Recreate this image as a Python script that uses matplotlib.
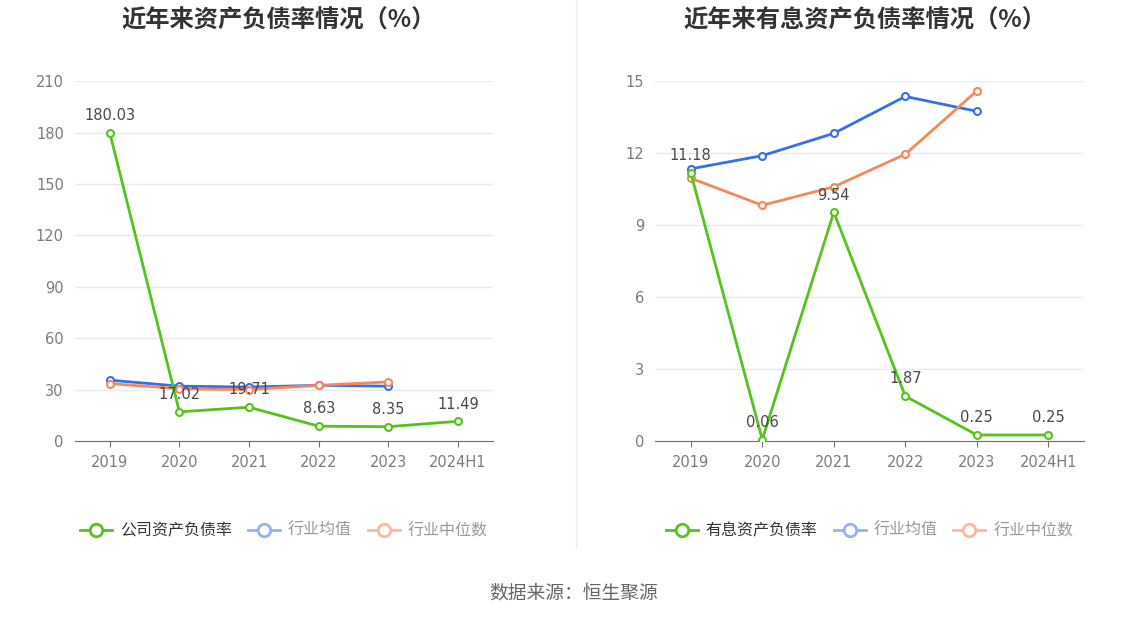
"""
近年来资产负债率 / 有息资产负债率
"""
import matplotlib
matplotlib.use('Agg')
import matplotlib.pyplot as plt
from matplotlib.lines import Line2D

plt.rcParams['font.family'] = ['DejaVu Sans', 'Noto Sans CJK SC']
CJK = ['Noto Sans CJK SC', 'DejaVu Sans']

years = ['2019', '2020', '2021', '2022', '2023', '2024H1']

# 资产负债率
company_debt = [180.03, 17.02, 19.71, 8.63, 8.35, 11.49]
industry_avg = [35.5, 32.0, 31.5, 32.5, 32.0]
industry_median = [33.5, 30.5, 30.0, 32.5, 34.5]

# 有息资产负债率
company_int = [11.18, 0.06, 9.54, 1.87, 0.25, 0.25]
int_avg = [11.35, 11.9, 12.83, 14.37, 13.75]
int_median = [10.96, 9.83, 10.6, 11.96, 14.6]

GREEN = '#52C41A'
BLUE = '#3470E6'
ORANGE = '#F7875A'
BLUE_L = '#94B3F3'
ORANGE_L = '#FBB9A0'
GRID = '#E6EAF2'
AXIS = '#6E7079'

fig = plt.figure(figsize=(11.48, 6.19), dpi=100)


def draw(ax, comp, avg, med, ymax, step, name):
    x = list(range(len(years)))
    ax.plot(x[:len(avg)], avg, color=BLUE, lw=2, marker='o', ms=5,
            mfc='white', mec=BLUE, mew=1.5, zorder=3)
    ax.plot(x[:len(med)], med, color=ORANGE, lw=2, marker='o', ms=5,
            mfc='white', mec=ORANGE, mew=1.5, zorder=3)
    ax.plot(x, comp, color=GREEN, lw=2, marker='o', ms=5,
            mfc='white', mec=GREEN, mew=1.5, zorder=4)
    for i, v in enumerate(comp):
        ax.annotate('%.2f' % v, (i, v), xytext=(0, 7), textcoords='offset points',
                    ha='center', va='bottom', fontsize=10.5, color='#484848', zorder=5)
    ax.set_xlim(-0.5, len(years) - 0.5)
    ax.set_ylim(0, ymax)
    ax.set_yticks([step * k for k in range(int(ymax / step) + 1)])
    ax.set_xticks(x)
    ax.set_xticklabels(years)
    ax.grid(axis='y', color=GRID, lw=1)
    ax.set_axisbelow(True)
    for s in ['top', 'right', 'left']:
        ax.spines[s].set_visible(False)
    ax.spines['bottom'].set_color(AXIS)
    ax.tick_params(axis='y', length=0, pad=8, labelsize=10.5, labelcolor='#7A7C85')
    ax.tick_params(axis='x', length=4, color=AXIS, pad=6, labelsize=10.5, labelcolor='#7A7C85')

    handles = [
        Line2D([], [], color=GREEN, lw=2, marker='o', ms=9, mfc='white', mec=GREEN, mew=2),
        Line2D([], [], color=BLUE_L, lw=2, marker='o', ms=9, mfc='white', mec=BLUE_L, mew=2),
        Line2D([], [], color=ORANGE_L, lw=2, marker='o', ms=9, mfc='white', mec=ORANGE_L, mew=2),
    ]
    leg = ax.legend(handles, [name, '行业均值', '行业中位数'], loc='center',
                    bbox_to_anchor=(0.5, -0.25), ncol=3, frameon=False,
                    prop={'family': CJK, 'size': 11.5}, handlelength=2.0,
                    handletextpad=0.5, columnspacing=1.0)
    cols = ['#333333', '#999999', '#999999']
    for t, c in zip(leg.get_texts(), cols):
        t.set_color(c)


ax1 = fig.add_axes([0.0653, 0.2876, 0.364, 0.581])
draw(ax1, company_debt, industry_avg, industry_median, 210, 30, '公司资产负债率')

ax2 = fig.add_axes([0.5706, 0.2876, 0.3737, 0.581])
draw(ax2, company_int, int_avg, int_median, 15, 3, '有息资产负债率')

fig.text(0.243, 0.967, '近年来资产负债率情况（%）', ha='center', va='center',
         fontsize=17.5, fontweight='bold', color='#333333', family=CJK)
fig.text(0.753, 0.967, '近年来有息资产负债率情况（%）', ha='center', va='center',
         fontsize=17.5, fontweight='bold', color='#333333', family=CJK)

fig.add_artist(Line2D([0.502, 0.502], [0.115, 1.0], color='#EEEEEE', lw=1))

fig.text(0.5, 0.042, '数据来源：恒生聚源', ha='center', va='center',
         fontsize=13.5, color='#666666', family=CJK)

fig.savefig('out.png', dpi=100, facecolor='white')
print('Finshed')
